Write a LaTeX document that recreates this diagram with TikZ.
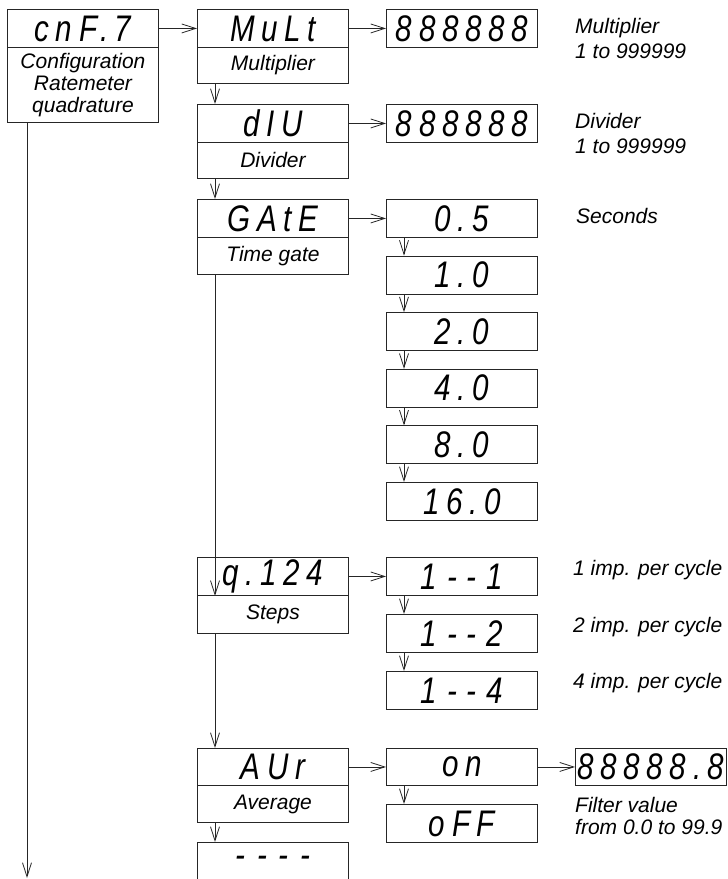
\documentclass[tikz,border=0pt]{standalone}
\usepackage{fontspec}
\setmainfont{Liberation Sans}
\newfontfamily\segfont{Liberation Sans}[LetterSpace=18,FakeStretch=0.8]
\usetikzlibrary{arrows.meta}
\begin{document}
\begin{tikzpicture}[x=1pt,y=-1pt,
  box/.style={draw=black!85, line width=0.9pt, rectangle, inner sep=0pt, anchor=north west, minimum width=151pt},
  seg/.style={box, minimum height=38pt, font=\segfont\itshape\fontsize{37}{37}\selectfont},
  lab/.style={box, minimum height=36pt, font=\itshape\fontsize{21}{22}\selectfont, align=center},
  note/.style={anchor=base west, inner sep=0pt, font=\itshape\fontsize{21}{25}\selectfont},
  arr/.style={draw=black!85, line width=0.8pt, -{Straight Barb[length=14pt,width=9pt]}},
]
\useasboundingbox (0,0) rectangle (728,879);
\coordinate (xa) at (27,0);
\coordinate (xb) at (215,0);
\coordinate (xc) at (404,0);
\coordinate (aend) at (27,878);
% column A
\node[seg] (cnf) at (7,9) {cnF.7};
\node[lab, minimum height=75pt] (cnfl) at (7,47) {Configuration\\Ratemeter\\quadrature};
% column B
\node[seg] (mult) at (197,9) {MuLt};
\node[lab] (multl) at (197,47) {Multiplier};
\node[seg] (div) at (197,104) {dIU};
\node[lab] (divl) at (197,142) {Divider};
\node[seg] (gate) at (197,199) {GAtE};
\node[lab, minimum height=37pt] (gatel) at (197,237) {Time gate};
\node[seg] (q) at (197,557) {q.124};
\node[lab, minimum height=38pt] (stepsl) at (197,595) {Steps};
\node[seg, minimum height=37pt] (avr) at (197,748) {AUr};
\node[lab, minimum height=37pt] (avrl) at (197,785) {Average};
\node[seg] (dash) at (197,842) {-\kern12pt-\kern12pt-\kern12pt-};
% column C
\node[seg] (m8) at (386,9) {888888};
\node[seg] (d8) at (386,104) {888888};
\node[seg] (g05) at (386,199) {0.5};
\node[seg] (g10) at (386,255.6) {1.0};
\node[seg] (g20) at (386,312.2) {2.0};
\node[seg] (g40) at (386,368.8) {4.0};
\node[seg] (g80) at (386,425.4) {8.0};
\node[seg] (g160) at (386,482) {16.0};
\node[seg] (s1) at (386,557) {1\kern10pt-\kern10pt-\kern10pt1};
\node[seg] (s2) at (386,614) {1\kern10pt-\kern10pt-\kern10pt2};
\node[seg] (s4) at (386,671) {1\kern10pt-\kern10pt-\kern10pt4};
\node[seg, minimum height=37pt] (on) at (386,748) {on};
\node[seg] (off) at (386,804) {oFF};
% column D
\node[seg, minimum height=37pt] (f8) at (575,748) {88888.8};
% notes
\node[note] (n1a) at (575,33) {Multiplier};
\node[note] (n1b) at (575,58) {1 to 999999};
\node[note] (n2a) at (575,128) {Divider};
\node[note] (n2b) at (575,153) {1 to 999999};
\node[note] (n3) at (576,223) {Seconds};
\node[note] (n4) at (573,575) {1 imp. per cycle};
\node[note] (n5) at (573,632) {2 imp. per cycle};
\node[note] (n6) at (573,688) {4 imp. per cycle};
\node[note] (n7a) at (575,812) {Filter value};
\node[note] (n7b) at (575,834) {from 0.0 to 99.9};
% horizontal arrows
\draw[arr] (cnf.east) -- (mult.west);
\draw[arr] (mult.east) -- (m8.west);
\draw[arr] (div.east) -- (d8.west);
\draw[arr] (gate.east) -- (g05.west);
\draw[arr] (q.east) -- (s1.west);
\draw[arr] (avr.east) -- (on.west);
\draw[arr] (on.east) -- (f8.west);
% vertical arrows
\draw[arr] (cnfl.south -| xa) -- (aend);
\draw[arr] (multl.south -| xb) -- (div.north -| xb);
\draw[arr] (divl.south -| xb) -- (gate.north -| xb);
\draw[arr] (gatel.south -| xb) -- (q.south -| xb);
\draw[arr] (stepsl.south -| xb) -- (avr.north -| xb);
\draw[arr] (avrl.south -| xb) -- (dash.north -| xb);
\draw[arr] (g05.south -| xc) -- (g10.north -| xc);
\draw[arr] (g10.south -| xc) -- (g20.north -| xc);
\draw[arr] (g20.south -| xc) -- (g40.north -| xc);
\draw[arr] (g40.south -| xc) -- (g80.north -| xc);
\draw[arr] (g80.south -| xc) -- (g160.north -| xc);
\draw[arr] (s1.south -| xc) -- (s2.north -| xc);
\draw[arr] (s2.south -| xc) -- (s4.north -| xc);
\draw[arr] (on.south -| xc) -- (off.north -| xc);
\end{tikzpicture}
\end{document}
